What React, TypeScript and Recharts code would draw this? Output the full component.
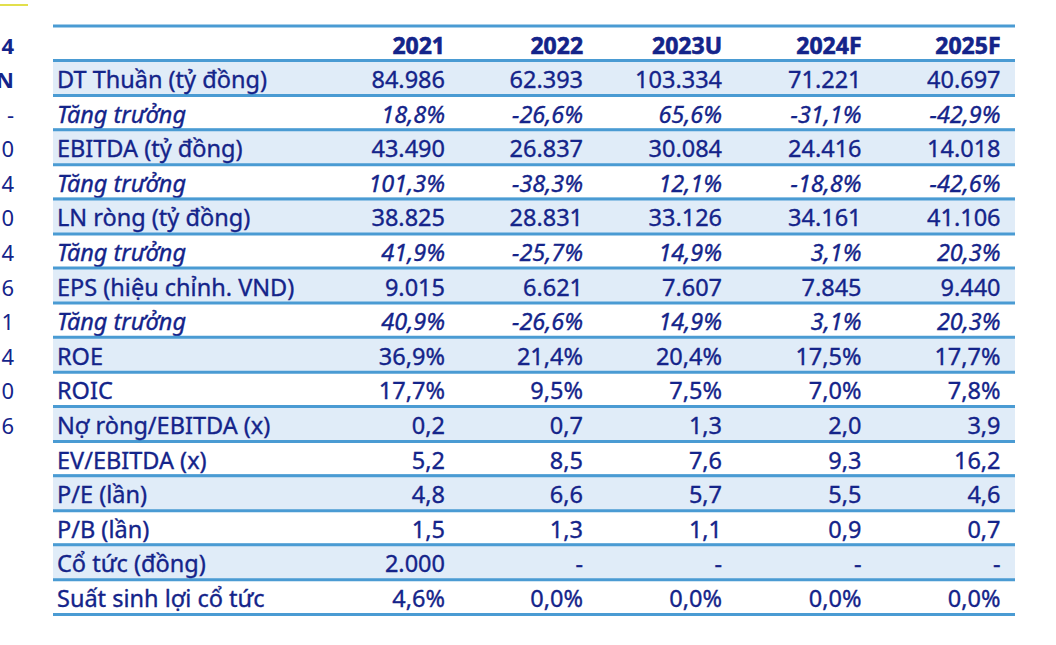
import { Bar, BarChart, XAxis, YAxis } from "recharts";

const years = ["2021", "2022", "2023U", "2024F", "2025F"];
const metrics = [
  "DT Thuần (tỷ đồng)",
  "Tăng trưởng",
  "EBITDA (tỷ đồng)",
  "Tăng trưởng",
  "LN ròng (tỷ đồng)",
  "Tăng trưởng",
  "EPS (hiệu chỉnh. VND)",
  "Tăng trưởng",
  "ROE",
  "ROIC",
  "Nợ ròng/EBITDA (x)",
  "EV/EBITDA (x)",
  "P/E (lần)",
  "P/B (lần)",
  "Cổ tức (đồng)",
  "Suất sinh lợi cổ tức",
];
const v2021 = ["84.986", "18,8%", "43.490", "101,3%", "38.825", "41,9%", "9.015", "40,9%", "36,9%", "17,7%", "0,2", "5,2", "4,8", "1,5", "2.000", "4,6%"];
const v2022 = ["62.393", "-26,6%", "26.837", "-38,3%", "28.831", "-25,7%", "6.621", "-26,6%", "21,4%", "9,5%", "0,7", "8,5", "6,6", "1,3", "-", "0,0%"];
const v2023 = ["103.334", "65,6%", "30.084", "12,1%", "33.126", "14,9%", "7.607", "14,9%", "20,4%", "7,5%", "1,3", "7,6", "5,7", "1,1", "-", "0,0%"];
const v2024 = ["71.221", "-31,1%", "24.416", "-18,8%", "34.161", "3,1%", "7.845", "3,1%", "17,5%", "7,0%", "2,0", "9,3", "5,5", "0,9", "-", "0,0%"];
const v2025 = ["40.697", "-42,9%", "14.018", "-42,6%", "41.106", "20,3%", "9.440", "20,3%", "17,7%", "7,8%", "3,9", "16,2", "4,6", "0,7", "-", "0,0%"];
const shadedRows = [1, 0, 1, 0, 1, 0, 1, 0, 1, 0, 1, 0, 1, 0, 1, 0];
const italicRows = [0, 1, 0, 1, 0, 1, 0, 1, 0, 0, 0, 0, 0, 0, 0, 0];
// cut-off text of the neighbouring panel on the left edge
const sideText = ["4", "N", "-", "0", "4", "0", "4", "1,6", "1", "4", "0", "6"];

const TEXT = "#14248a";
const LINE = "#4a9bd3";
const FILL = "#e0ecf8";
const FONT = "'Noto Sans', sans-serif";
const COL_RIGHT = [0.4075, 0.551, 0.6955, 0.8405, 0.985];

const rows = [
  { name: "header", band: 1, cells: years, shade: 0, italic: 0, bold: 1, side: sideText[0] },
  ...metrics.map((m, i) => ({
    name: m,
    band: 1,
    cells: [v2021[i], v2022[i], v2023[i], v2024[i], v2025[i]],
    shade: shadedRows[i],
    italic: italicRows[i],
    bold: 0,
    side: sideText[i + 1] ?? "",
  })),
];

function RowShape(props: any) {
  const { x, y, width, height, payload, index } = props;
  const cy = y + height / 2 + 1;
  const style = {
    fontFamily: FONT,
    fontSize: payload.bold ? 23 : 23.5,
    fontStyle: payload.italic ? "italic" : "normal",
    fontWeight: payload.bold ? 700 : 400,
  };
  const textProps = {
    dominantBaseline: "central" as const,
    fill: TEXT,
    stroke: TEXT,
    strokeWidth: payload.bold ? 0.6 : 0.35,
    style,
  };
  return (
    <g>
      {index === 0 && <line x1={0} x2={28} y1={5} y2={5} stroke="#e2df4c" strokeWidth={2} />}
      {payload.shade ? <rect x={x} y={y} width={width} height={height} fill={FILL} /> : null}
      {(index === 0 || payload.shade) && (
        <line x1={x} x2={x + width} y1={y} y2={y} stroke={LINE} strokeWidth={3} />
      )}
      <line x1={x} x2={x + width} y1={y + height} y2={y + height} stroke={LINE} strokeWidth={3} />
      {payload.side && (
        <text x={14} y={cy} textAnchor="end" dominantBaseline="central" fill={TEXT}
          style={{ fontFamily: FONT, fontSize: 22, fontWeight: index < 2 ? 700 : 400 }}>
          {payload.side}
        </text>
      )}
      {index > 0 && (
        <text x={x + 4} y={cy} {...textProps}>
          {payload.name}
        </text>
      )}
      {payload.cells.map((c: string, i: number) => (
        <text key={i} x={x + width * COL_RIGHT[i]} y={cy} textAnchor="end" {...textProps}>
          {c}
        </text>
      ))}
    </g>
  );
}

export default function App() {
  return (
    <div style={{ position: "absolute", left: 0, top: 0, background: "#fff" }}>
      <BarChart
        width={1056}
        height={645}
        data={rows}
        layout="vertical"
        barCategoryGap={0}
        margin={{ top: 26, right: 41, bottom: 31, left: 53 }}
      >
        <XAxis type="number" domain={[0, 1]} hide />
        <YAxis type="category" dataKey="name" hide />
        <Bar dataKey="band" shape={RowShape} isAnimationActive={false} />
      </BarChart>
    </div>
  );
}
